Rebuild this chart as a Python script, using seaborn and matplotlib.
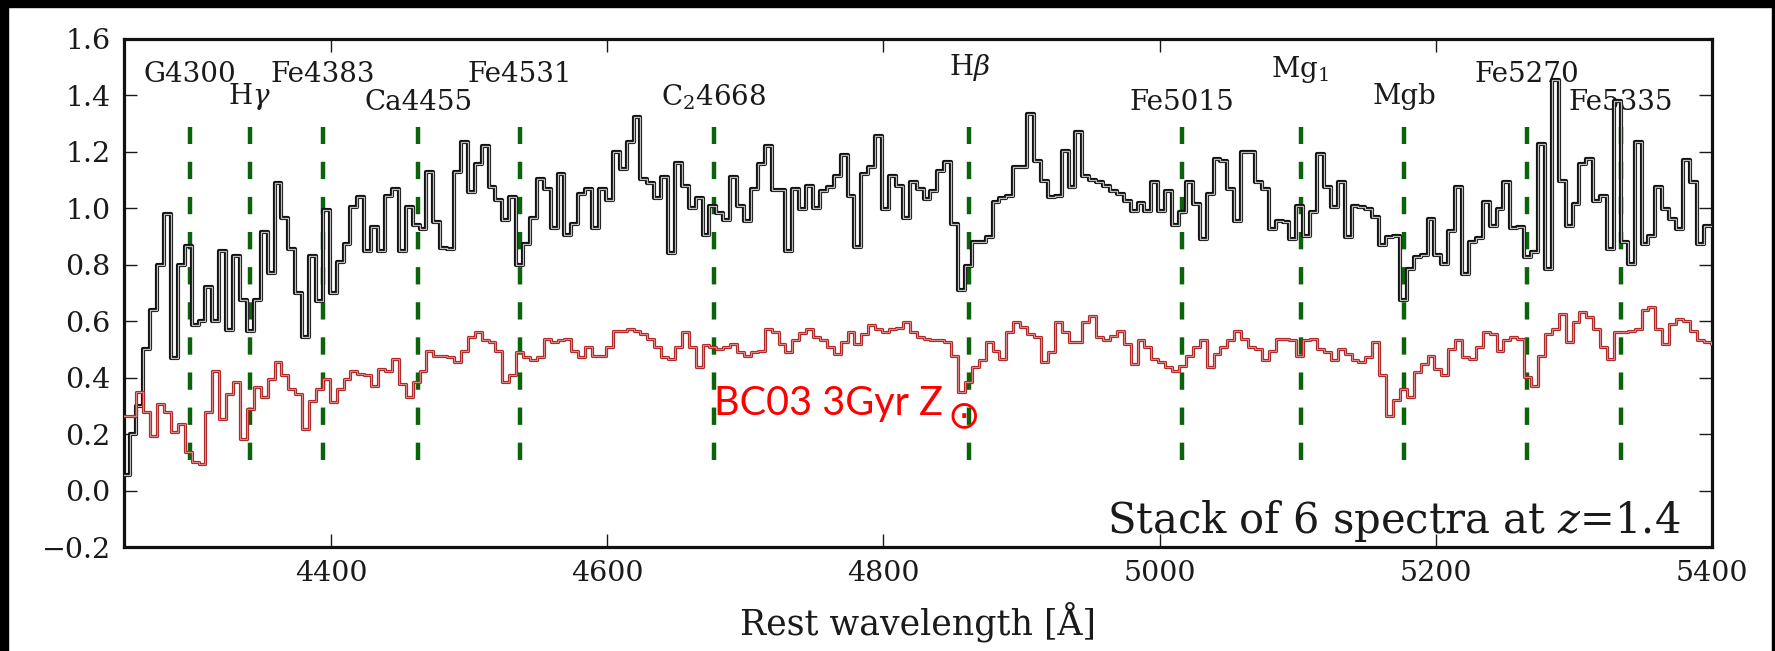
import numpy as np
import pandas as pd
import matplotlib
matplotlib.use("Agg")
import matplotlib.pyplot as plt
import matplotlib.patheffects as pe
from matplotlib.patches import Rectangle
import seaborn as sns

# Rest-frame wavelength grid of the binned spectra (5 Å bins)
bin_start = 4249.0
bin_width = 5.0

# Stacked spectrum of 6 galaxies at z=1.4 (normalised flux per bin)
stack_flux = [
    0.055, 0.20, 0.30, 0.50, 0.64, 0.80, 0.98, 0.47, 0.80, 0.865,
    0.585, 0.60, 0.72, 0.60, 0.85, 0.57, 0.83, 0.675, 0.565, 0.675,
    0.915, 0.77, 1.09, 0.965, 0.855, 0.70, 0.545, 0.83, 0.67, 0.995,
    0.70, 0.81, 0.875, 1.005, 1.04, 0.85, 0.935, 0.85, 1.045, 1.07,
    0.85, 1.005, 0.94, 0.925, 1.13, 0.95, 0.86, 0.855, 1.127, 1.236,
    1.057, 1.157, 1.22, 1.074, 1.03, 0.96, 1.04, 0.80, 0.875, 0.965,
    1.105, 1.07, 0.93, 1.12, 0.905, 0.945, 1.05, 1.07, 0.93, 1.07,
    1.03, 1.198, 1.14, 1.234, 1.323, 1.105, 1.09, 1.035, 1.11, 0.84,
    1.16, 1.08, 1.0, 1.035, 0.905, 1.01, 0.985, 0.96, 1.11, 1.01,
    0.955, 1.068, 1.157, 1.222, 1.066, 1.066, 0.85, 1.068, 0.998, 1.08,
    1.0, 1.06, 1.074, 1.116, 1.19, 1.045, 0.862, 1.12, 1.145, 1.257,
    0.998, 1.116, 1.08, 0.965, 1.092, 1.068, 1.033, 1.06, 1.133, 1.163,
    0.945, 0.71, 0.797, 0.88, 0.88, 0.897, 1.021, 1.035, 1.045, 1.145,
    1.145, 1.334, 1.169, 1.098, 1.039, 1.045, 1.204, 1.074, 1.27, 1.116,
    1.10, 1.092, 1.08, 1.063, 1.05, 1.027, 0.992, 1.02, 0.992, 1.092,
    0.992, 1.063, 0.94, 0.986, 1.092, 1.015, 0.89, 1.05, 1.175, 1.169,
    1.068, 0.956, 1.198, 1.198, 1.092, 1.068, 0.927, 0.956, 0.95, 0.89,
    1.01, 0.903, 0.986, 1.192, 1.074, 1.004, 1.092, 0.897, 1.01, 1.004,
    0.998, 0.968, 0.87, 0.90, 0.903, 0.674, 0.786, 0.827, 0.833, 0.963,
    0.833, 0.804, 0.92, 1.074, 0.768, 0.88, 0.894, 1.021, 0.939, 0.998,
    1.092, 0.93, 0.933, 0.827, 0.847, 1.229, 0.786, 1.453, 1.098, 0.939,
    1.015, 1.157, 1.175, 1.027, 1.045, 0.856, 1.382, 0.88, 0.804, 1.234,
    0.874, 0.903, 1.074, 0.998, 0.962, 0.927, 1.17, 1.092, 0.874, 0.939,
    0.939,
]

# BC03 3 Gyr solar-metallicity model on the same grid
model_flux = [
    0.265, 0.265, 0.349, 0.278, 0.195, 0.307, 0.278, 0.207, 0.237, 0.136,
    0.10, 0.095, 0.278, 0.425, 0.254, 0.343, 0.384, 0.183, 0.29, 0.366,
    0.331, 0.396, 0.455, 0.408, 0.36, 0.343, 0.219, 0.319, 0.36, 0.396,
    0.313, 0.36, 0.396, 0.425, 0.414, 0.408, 0.372, 0.431, 0.425, 0.467,
    0.378, 0.331, 0.384, 0.425, 0.496, 0.478, 0.476, 0.473, 0.455, 0.493,
    0.543, 0.561, 0.532, 0.528, 0.493, 0.384, 0.408, 0.49, 0.473, 0.461,
    0.473, 0.537, 0.526, 0.532, 0.537, 0.496, 0.473, 0.508, 0.476, 0.478,
    0.508, 0.567, 0.567, 0.573, 0.567, 0.555, 0.537, 0.508, 0.473, 0.467,
    0.508, 0.561, 0.51, 0.437, 0.514, 0.508, 0.502, 0.508, 0.52, 0.49,
    0.478, 0.49, 0.496, 0.573, 0.561, 0.52, 0.49, 0.532, 0.558, 0.573,
    0.543, 0.532, 0.508, 0.484, 0.528, 0.561, 0.52, 0.555, 0.585, 0.573,
    0.561, 0.573, 0.575, 0.596, 0.561, 0.543, 0.537, 0.535, 0.532, 0.528,
    0.478, 0.349, 0.384, 0.437, 0.461, 0.526, 0.496, 0.467, 0.561, 0.596,
    0.579, 0.555, 0.543, 0.455, 0.49, 0.596, 0.561, 0.526, 0.526, 0.596,
    0.62, 0.543, 0.532, 0.549, 0.567, 0.52, 0.449, 0.532, 0.508, 0.467,
    0.455, 0.437, 0.425, 0.443, 0.478, 0.508, 0.532, 0.437, 0.484, 0.508,
    0.532, 0.567, 0.537, 0.508, 0.502, 0.461, 0.496, 0.537, 0.537, 0.532,
    0.478, 0.532, 0.537, 0.502, 0.49, 0.461, 0.502, 0.484, 0.461, 0.457,
    0.473, 0.526, 0.408, 0.265, 0.32, 0.36, 0.33, 0.42, 0.45, 0.478,
    0.431, 0.408, 0.502, 0.532, 0.473, 0.467, 0.508, 0.561, 0.555, 0.496,
    0.532, 0.543, 0.537, 0.402, 0.372, 0.478, 0.555, 0.573, 0.626, 0.526,
    0.596, 0.632, 0.614, 0.573, 0.508, 0.467, 0.561, 0.561, 0.567, 0.573,
    0.638, 0.65, 0.573, 0.52, 0.59, 0.608, 0.602, 0.567, 0.532, 0.526,
    0.52,
]

# Lick absorption indices and their central wavelengths
index_names = ["G4300", r"H$\gamma$", "Fe4383", "Ca4455", "Fe4531", r"C$_2$4668",
               r"H$\beta$", "Fe5015", r"Mg$_1$", "Mgb", "Fe5270", "Fe5335"]
index_waves = [4298, 4341, 4394, 4463, 4537, 4677, 4862, 5016, 5102, 5177, 5266, 5334]

x_ticks = [4400, 4600, 4800, 5000, 5200, 5400]
y_ticks = [-0.2, 0.0, 0.2, 0.4, 0.6, 0.8, 1.0, 1.2, 1.4, 1.6]

# label heights (staggered so neighbouring names do not collide)
label_heights = [1.446, 1.371, 1.446, 1.347, 1.446, 1.365, 1.471, 1.347, 1.465, 1.371, 1.446, 1.347]

sns.set_theme(style="ticks")
plt.rcParams["font.family"] = ["DejaVu Serif"]
plt.rcParams["mathtext.fontset"] = "dejavuserif"
plt.rcParams["axes.linewidth"] = 2.3

n = len(stack_flux)
edges = bin_start + bin_width * np.arange(n + 1)
spec = pd.DataFrame({
    "wave": edges,
    "stack": stack_flux + [stack_flux[-1]],
    "model": model_flux + [model_flux[-1]],
})

fig = plt.figure(figsize=(17.75, 6.51), dpi=100)
ax = fig.add_axes([124 / 1775, 1 - 547 / 651, (1712 - 124) / 1775, (547 - 39) / 651])

# index markers
ax.vlines(index_waves, 0.108, 1.287, colors="#0a640a", linewidth=3.2,
          linestyles=(0, (3.9, 4.0)), zorder=3)

# observed stack: black outline with a pale core
sns.lineplot(data=spec, x="wave", y="stack", ax=ax, drawstyle="steps-post",
             estimator=None, sort=False, color="#bdbdbd", linewidth=0.9,
             path_effects=[pe.Stroke(linewidth=3.0, foreground="#111111"), pe.Normal()],
             zorder=4)
# model spectrum
sns.lineplot(data=spec, x="wave", y="model", ax=ax, drawstyle="steps-post",
             estimator=None, sort=False, color="#dc8a8a", linewidth=0.7,
             path_effects=[pe.Stroke(linewidth=2.3, foreground="#b02a2a"), pe.Normal()],
             zorder=4)

for name, w, h in zip(index_names, index_waves, label_heights):
    ax.text(w, h, name, ha="center", va="baseline", fontsize=20, color="#1a1a1a")

ax.text(5377.5, -0.150, r"Stack of 6 spectra at $z$=1.4", ha="right", va="baseline",
        fontsize=30, color="#1a1a1a")

# model label with a solar-metallicity subscript symbol
ax.text(4677, 0.267, "BC03 3Gyr Z", ha="left", va="baseline",
        fontsize=28.5, color="#ff0000", family=["Lato", "DejaVu Sans"])
ax.text(4858.5, 0.262, "\u2299", ha="center", va="center", fontsize=28,
        color="#ff0000", family=["DejaVu Sans"])

ax.set_xlim(4250, 5400)
ax.set_ylim(-0.2, 1.6)
ax.set_xticks(x_ticks)
ax.set_yticks(y_ticks)
ax.set_yticklabels([f"{v:.1f}".replace("-", "\u2212") for v in y_ticks])
ax.tick_params(direction="in", length=9.5, width=1.0, top=True, right=True,
               labelsize=20.5, pad=9.5, colors="#1a1a1a")
ax.set_xlabel("Rest wavelength [Å]", fontsize=25, labelpad=10, color="#1a1a1a")
ax.set_ylabel("")
for s in ax.spines.values():
    s.set_color("#111111")
    s.set_linewidth(2.3)

# dark frame strips along the top, left and right edges
fig.add_artist(Rectangle((0, 1 - 7 / 651), 1, 7 / 651, transform=fig.transFigure,
                         color="black", zorder=10))
fig.add_artist(Rectangle((0, 0), 8 / 1775, 1, transform=fig.transFigure,
                         color="black", zorder=10))
fig.add_artist(Rectangle((1 - 3 / 1775, 0), 3 / 1775, 1, transform=fig.transFigure,
                         color="black", zorder=10))

fig.savefig("out.png", dpi=100)
